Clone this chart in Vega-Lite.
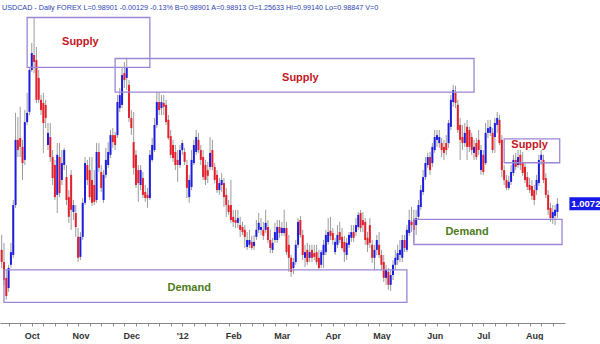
{
"$schema": "https://vega.github.io/schema/vega-lite/v6.json",
"width": 565, "height": 323, "padding": 0, "background": "white",
"title": {"text": "USDCAD - Daily FOREX L=0.98901 -0.00129 -0.13% B=0.98901 A=0.98913 O=1.25633 Hi=0.99140 Lo=0.98847 V=0", "anchor": "start", "frame": "group", "orient": "top", "offset": -17, "baseline": "alphabetic", "dx": 2, "fontSize": 7.2, "fontWeight": "normal", "color": "#2c3fb3", "font": "Liberation Sans"},
"config": {"view": {"stroke": null}, "font": "Liberation Sans"},
"resolve": {"axis": {"x": "independent"}},
"datasets": {
"bars": [
{"d":"2011-09-14","o":0.9927,"h":0.9974,"l":0.9870,"c":0.9889},
{"d":"2011-09-15","o":0.9889,"h":0.9949,"l":0.9817,"c":0.9832},
{"d":"2011-09-16","o":0.9839,"h":0.9864,"l":0.9770,"c":0.9782},
{"d":"2011-09-19","o":0.9807,"h":0.9880,"l":0.9795,"c":0.9870},
{"d":"2011-09-20","o":0.9880,"h":0.9949,"l":0.9870,"c":0.9920},
{"d":"2011-09-21","o":0.9911,"h":1.0084,"l":0.9902,"c":1.0068},
{"d":"2011-09-22","o":1.0068,"h":1.0358,"l":1.0059,"c":1.0273},
{"d":"2011-09-23","o":1.0273,"h":1.0345,"l":1.0219,"c":1.0241},
{"d":"2011-09-26","o":1.0279,"h":1.0377,"l":1.0219,"c":1.0251},
{"d":"2011-09-27","o":1.0251,"h":1.0273,"l":1.0147,"c":1.0200},
{"d":"2011-09-28","o":1.0210,"h":1.0367,"l":1.0194,"c":1.0329},
{"d":"2011-09-29","o":1.0329,"h":1.0421,"l":1.0320,"c":1.0358},
{"d":"2011-09-30","o":1.0361,"h":1.0502,"l":1.0351,"c":1.0493},
{"d":"2011-10-03","o":1.0493,"h":1.0578,"l":1.0487,"c":1.0546},
{"d":"2011-10-04","o":1.0540,"h":1.0656,"l":1.0483,"c":1.0518},
{"d":"2011-10-05","o":1.0524,"h":1.0565,"l":1.0389,"c":1.0399},
{"d":"2011-10-06","o":1.0468,"h":1.0493,"l":1.0389,"c":1.0399},
{"d":"2011-10-07","o":1.0399,"h":1.0414,"l":1.0351,"c":1.0367},
{"d":"2011-10-10","o":1.0389,"h":1.0421,"l":1.0232,"c":1.0326},
{"d":"2011-10-11","o":1.0383,"h":1.0399,"l":1.0310,"c":1.0342},
{"d":"2011-10-12","o":1.0257,"h":1.0326,"l":1.0241,"c":1.0295},
{"d":"2011-10-13","o":1.0282,"h":1.0326,"l":1.0204,"c":1.0219},
{"d":"2011-10-14","o":1.0219,"h":1.0241,"l":1.0131,"c":1.0153},
{"d":"2011-10-17","o":1.0194,"h":1.0210,"l":1.0084,"c":1.0093},
{"d":"2011-10-18","o":1.0100,"h":1.0263,"l":1.0043,"c":1.0226},
{"d":"2011-10-19","o":1.0219,"h":1.0263,"l":1.0093,"c":1.0106},
{"d":"2011-10-20","o":1.0147,"h":1.0241,"l":1.0131,"c":1.0200},
{"d":"2011-10-21","o":1.0194,"h":1.0248,"l":1.0178,"c":1.0241},
{"d":"2011-10-24","o":1.0156,"h":1.0194,"l":1.0068,"c":1.0084},
{"d":"2011-10-25","o":1.0093,"h":1.0115,"l":1.0012,"c":1.0031},
{"d":"2011-10-26","o":1.0163,"h":1.0178,"l":0.9990,"c":1.0053},
{"d":"2011-10-27","o":1.0046,"h":1.0084,"l":1.0021,"c":1.0068},
{"d":"2011-10-28","o":1.0043,"h":1.0068,"l":0.9968,"c":0.9999},
{"d":"2011-10-31","o":0.9968,"h":0.9996,"l":0.9889,"c":0.9902},
{"d":"2011-11-01","o":0.9905,"h":0.9983,"l":0.9895,"c":0.9968},
{"d":"2011-11-02","o":0.9968,"h":1.0090,"l":0.9958,"c":1.0075},
{"d":"2011-11-03","o":1.0075,"h":1.0219,"l":1.0068,"c":1.0200},
{"d":"2011-11-04","o":1.0194,"h":1.0210,"l":1.0131,"c":1.0147},
{"d":"2011-11-07","o":1.0178,"h":1.0219,"l":1.0084,"c":1.0093},
{"d":"2011-11-08","o":1.0147,"h":1.0219,"l":1.0065,"c":1.0075},
{"d":"2011-11-09","o":1.0131,"h":1.0178,"l":1.0068,"c":1.0078},
{"d":"2011-11-10","o":1.0084,"h":1.0263,"l":1.0075,"c":1.0235},
{"d":"2011-11-11","o":1.0235,"h":1.0263,"l":1.0172,"c":1.0185},
{"d":"2011-11-14","o":1.0172,"h":1.0194,"l":1.0109,"c":1.0122},
{"d":"2011-11-15","o":1.0084,"h":1.0178,"l":1.0075,"c":1.0163},
{"d":"2011-11-16","o":1.0163,"h":1.0248,"l":1.0153,"c":1.0210},
{"d":"2011-11-17","o":1.0194,"h":1.0266,"l":1.0185,"c":1.0235},
{"d":"2011-11-18","o":1.0226,"h":1.0304,"l":1.0216,"c":1.0288},
{"d":"2011-11-21","o":1.0288,"h":1.0310,"l":1.0248,"c":1.0266},
{"d":"2011-11-22","o":1.0288,"h":1.0298,"l":1.0241,"c":1.0257},
{"d":"2011-11-23","o":1.0288,"h":1.0414,"l":1.0279,"c":1.0392},
{"d":"2011-11-24","o":1.0373,"h":1.0436,"l":1.0361,"c":1.0414},
{"d":"2011-11-25","o":1.0383,"h":1.0499,"l":1.0373,"c":1.0477},
{"d":"2011-11-28","o":1.0483,"h":1.0518,"l":1.0436,"c":1.0461},
{"d":"2011-11-29","o":1.0468,"h":1.0531,"l":1.0430,"c":1.0499},
{"d":"2011-11-30","o":1.0446,"h":1.0461,"l":1.0329,"c":1.0342},
{"d":"2011-12-01","o":1.0342,"h":1.0367,"l":1.0288,"c":1.0310},
{"d":"2011-12-02","o":1.0266,"h":1.0361,"l":1.0163,"c":1.0185},
{"d":"2011-12-05","o":1.0226,"h":1.0241,"l":1.0122,"c":1.0131},
{"d":"2011-12-06","o":1.0178,"h":1.0194,"l":1.0078,"c":1.0137},
{"d":"2011-12-07","o":1.0131,"h":1.0194,"l":1.0115,"c":1.0178},
{"d":"2011-12-08","o":1.0153,"h":1.0172,"l":1.0090,"c":1.0100},
{"d":"2011-12-09","o":1.0109,"h":1.0131,"l":1.0078,"c":1.0090},
{"d":"2011-12-12","o":1.0100,"h":1.0122,"l":1.0059,"c":1.0090},
{"d":"2011-12-13","o":1.0090,"h":1.0241,"l":1.0084,"c":1.0226},
{"d":"2011-12-14","o":1.0210,"h":1.0279,"l":1.0204,"c":1.0257},
{"d":"2011-12-15","o":1.0241,"h":1.0342,"l":1.0235,"c":1.0320},
{"d":"2011-12-16","o":1.0320,"h":1.0424,"l":1.0310,"c":1.0392},
{"d":"2011-12-19","o":1.0392,"h":1.0424,"l":1.0351,"c":1.0367},
{"d":"2011-12-20","o":1.0373,"h":1.0414,"l":1.0351,"c":1.0392},
{"d":"2011-12-21","o":1.0389,"h":1.0414,"l":1.0351,"c":1.0377},
{"d":"2011-12-22","o":1.0383,"h":1.0399,"l":1.0320,"c":1.0329},
{"d":"2011-12-23","o":1.0336,"h":1.0351,"l":1.0273,"c":1.0279},
{"d":"2011-12-26","o":1.0285,"h":1.0304,"l":1.0216,"c":1.0226},
{"d":"2011-12-27","o":1.0257,"h":1.0273,"l":1.0204,"c":1.0216},
{"d":"2011-12-28","o":1.0235,"h":1.0257,"l":1.0178,"c":1.0194},
{"d":"2011-12-29","o":1.0210,"h":1.0241,"l":1.0141,"c":1.0194},
{"d":"2011-12-30","o":1.0194,"h":1.0257,"l":1.0185,"c":1.0241},
{"d":"2012-01-02","o":1.0241,"h":1.0273,"l":1.0226,"c":1.0263},
{"d":"2012-01-03","o":1.0235,"h":1.0248,"l":1.0194,"c":1.0204},
{"d":"2012-01-04","o":1.0194,"h":1.0210,"l":1.0090,"c":1.0122},
{"d":"2012-01-05","o":1.0093,"h":1.0163,"l":1.0075,"c":1.0147},
{"d":"2012-01-06","o":1.0125,"h":1.0241,"l":1.0115,"c":1.0210},
{"d":"2012-01-09","o":1.0200,"h":1.0273,"l":1.0194,"c":1.0257},
{"d":"2012-01-10","o":1.0235,"h":1.0304,"l":1.0226,"c":1.0282},
{"d":"2012-01-11","o":1.0273,"h":1.0295,"l":1.0232,"c":1.0241},
{"d":"2012-01-12","o":1.0241,"h":1.0257,"l":1.0194,"c":1.0210},
{"d":"2012-01-13","o":1.0219,"h":1.0241,"l":1.0147,"c":1.0156},
{"d":"2012-01-16","o":1.0194,"h":1.0210,"l":1.0131,"c":1.0147},
{"d":"2012-01-17","o":1.0178,"h":1.0204,"l":1.0137,"c":1.0160},
{"d":"2012-01-18","o":1.0188,"h":1.0282,"l":1.0178,"c":1.0232},
{"d":"2012-01-19","o":1.0241,"h":1.0273,"l":1.0178,"c":1.0188},
{"d":"2012-01-20","o":1.0188,"h":1.0200,"l":1.0137,"c":1.0147},
{"d":"2012-01-23","o":1.0163,"h":1.0178,"l":1.0106,"c":1.0115},
{"d":"2012-01-24","o":1.0115,"h":1.0153,"l":1.0100,"c":1.0137},
{"d":"2012-01-25","o":1.0131,"h":1.0169,"l":1.0109,"c":1.0147},
{"d":"2012-01-26","o":1.0137,"h":1.0153,"l":1.0062,"c":1.0093},
{"d":"2012-01-27","o":1.0100,"h":1.0122,"l":1.0031,"c":1.0068},
{"d":"2012-01-30","o":1.0068,"h":1.0084,"l":1.0037,"c":1.0046},
{"d":"2012-01-31","o":1.0068,"h":1.0147,"l":1.0012,"c":1.0021},
{"d":"2012-02-01","o":1.0031,"h":1.0053,"l":0.9999,"c":1.0015},
{"d":"2012-02-02","o":1.0021,"h":1.0053,"l":0.9996,"c":1.0012},
{"d":"2012-02-03","o":1.0012,"h":1.0053,"l":0.9996,"c":1.0027},
{"d":"2012-02-06","o":1.0005,"h":1.0031,"l":0.9968,"c":0.9990},
{"d":"2012-02-07","o":0.9999,"h":1.0015,"l":0.9974,"c":0.9983},
{"d":"2012-02-08","o":0.9990,"h":1.0005,"l":0.9933,"c":0.9968},
{"d":"2012-02-09","o":0.9936,"h":0.9983,"l":0.9927,"c":0.9958},
{"d":"2012-02-10","o":0.9943,"h":0.9990,"l":0.9933,"c":0.9958},
{"d":"2012-02-13","o":0.9952,"h":0.9971,"l":0.9927,"c":0.9933},
{"d":"2012-02-14","o":0.9939,"h":0.9974,"l":0.9927,"c":0.9952},
{"d":"2012-02-15","o":0.9968,"h":1.0021,"l":0.9958,"c":0.9990},
{"d":"2012-02-16","o":0.9990,"h":1.0043,"l":0.9980,"c":1.0012},
{"d":"2012-02-17","o":0.9990,"h":1.0027,"l":0.9974,"c":0.9999},
{"d":"2012-02-20","o":0.9990,"h":1.0015,"l":0.9958,"c":0.9971},
{"d":"2012-02-21","o":0.9990,"h":1.0053,"l":0.9980,"c":1.0012},
{"d":"2012-02-22","o":0.9999,"h":1.0021,"l":0.9949,"c":0.9958},
{"d":"2012-02-23","o":0.9958,"h":0.9990,"l":0.9917,"c":0.9933},
{"d":"2012-02-24","o":0.9927,"h":0.9965,"l":0.9917,"c":0.9949},
{"d":"2012-02-27","o":0.9958,"h":1.0012,"l":0.9949,"c":0.9983},
{"d":"2012-02-28","o":0.9958,"h":1.0021,"l":0.9949,"c":0.9999},
{"d":"2012-02-29","o":0.9999,"h":1.0021,"l":0.9965,"c":0.9980},
{"d":"2012-03-01","o":0.9980,"h":1.0015,"l":0.9971,"c":0.9996},
{"d":"2012-03-02","o":0.9980,"h":1.0053,"l":0.9971,"c":0.9996},
{"d":"2012-03-05","o":0.9996,"h":1.0015,"l":0.9911,"c":0.9920},
{"d":"2012-03-06","o":0.9943,"h":0.9974,"l":0.9858,"c":0.9902},
{"d":"2012-03-07","o":0.9902,"h":0.9911,"l":0.9842,"c":0.9858},
{"d":"2012-03-08","o":0.9870,"h":0.9902,"l":0.9851,"c":0.9889},
{"d":"2012-03-09","o":0.9889,"h":0.9958,"l":0.9880,"c":0.9943},
{"d":"2012-03-12","o":0.9943,"h":1.0027,"l":0.9933,"c":1.0015},
{"d":"2012-03-13","o":1.0021,"h":1.0034,"l":0.9965,"c":0.9974},
{"d":"2012-03-14","o":0.9974,"h":0.9990,"l":0.9895,"c":0.9911},
{"d":"2012-03-15","o":0.9902,"h":0.9943,"l":0.9873,"c":0.9920},
{"d":"2012-03-16","o":0.9927,"h":0.9949,"l":0.9880,"c":0.9889},
{"d":"2012-03-19","o":0.9902,"h":0.9943,"l":0.9889,"c":0.9920},
{"d":"2012-03-20","o":0.9927,"h":0.9943,"l":0.9889,"c":0.9902},
{"d":"2012-03-21","o":0.9917,"h":0.9943,"l":0.9895,"c":0.9905},
{"d":"2012-03-22","o":0.9920,"h":0.9943,"l":0.9880,"c":0.9889},
{"d":"2012-03-23","o":0.9902,"h":0.9927,"l":0.9864,"c":0.9870},
{"d":"2012-03-26","o":0.9880,"h":0.9927,"l":0.9870,"c":0.9920},
{"d":"2012-03-27","o":0.9911,"h":0.9958,"l":0.9870,"c":0.9943},
{"d":"2012-03-28","o":0.9920,"h":0.9990,"l":0.9911,"c":0.9974},
{"d":"2012-03-29","o":0.9952,"h":1.0027,"l":0.9943,"c":0.9983},
{"d":"2012-03-30","o":0.9987,"h":1.0031,"l":0.9958,"c":0.9971},
{"d":"2012-04-02","o":0.9980,"h":0.9996,"l":0.9943,"c":0.9958},
{"d":"2012-04-03","o":0.9920,"h":0.9965,"l":0.9911,"c":0.9952},
{"d":"2012-04-04","o":0.9943,"h":1.0005,"l":0.9933,"c":0.9974},
{"d":"2012-04-05","o":0.9983,"h":1.0015,"l":0.9949,"c":0.9958},
{"d":"2012-04-06","o":0.9968,"h":0.9996,"l":0.9927,"c":0.9933},
{"d":"2012-04-09","o":0.9952,"h":0.9971,"l":0.9889,"c":0.9920},
{"d":"2012-04-10","o":0.9911,"h":0.9965,"l":0.9895,"c":0.9949},
{"d":"2012-04-11","o":0.9943,"h":0.9983,"l":0.9933,"c":0.9974},
{"d":"2012-04-12","o":0.9965,"h":1.0005,"l":0.9952,"c":0.9983},
{"d":"2012-04-13","o":0.9983,"h":1.0005,"l":0.9952,"c":0.9965},
{"d":"2012-04-16","o":0.9983,"h":1.0027,"l":0.9971,"c":1.0005},
{"d":"2012-04-17","o":0.9999,"h":1.0046,"l":0.9990,"c":1.0037},
{"d":"2012-04-18","o":1.0043,"h":1.0053,"l":0.9983,"c":0.9996},
{"d":"2012-04-19","o":1.0021,"h":1.0046,"l":0.9983,"c":1.0005},
{"d":"2012-04-20","o":1.0015,"h":1.0027,"l":0.9943,"c":0.9958},
{"d":"2012-04-23","o":0.9965,"h":0.9983,"l":0.9920,"c":0.9943},
{"d":"2012-04-24","o":1.0005,"h":1.0027,"l":0.9933,"c":0.9949},
{"d":"2012-04-25","o":0.9943,"h":0.9958,"l":0.9886,"c":0.9902},
{"d":"2012-04-26","o":0.9902,"h":0.9943,"l":0.9864,"c":0.9927},
{"d":"2012-04-27","o":0.9927,"h":0.9974,"l":0.9911,"c":0.9958},
{"d":"2012-04-30","o":0.9943,"h":0.9983,"l":0.9902,"c":0.9911},
{"d":"2012-05-01","o":0.9911,"h":0.9927,"l":0.9864,"c":0.9880},
{"d":"2012-05-02","o":0.9889,"h":0.9911,"l":0.9826,"c":0.9839},
{"d":"2012-05-03","o":0.9839,"h":0.9880,"l":0.9817,"c":0.9864},
{"d":"2012-05-04","o":0.9858,"h":0.9870,"l":0.9801,"c":0.9817},
{"d":"2012-05-07","o":0.9817,"h":0.9864,"l":0.9798,"c":0.9848},
{"d":"2012-05-08","o":0.9848,"h":0.9895,"l":0.9832,"c":0.9880},
{"d":"2012-05-09","o":0.9880,"h":0.9927,"l":0.9864,"c":0.9902},
{"d":"2012-05-10","o":0.9895,"h":0.9943,"l":0.9880,"c":0.9917},
{"d":"2012-05-11","o":0.9911,"h":0.9958,"l":0.9889,"c":0.9927},
{"d":"2012-05-14","o":0.9902,"h":0.9974,"l":0.9889,"c":0.9958},
{"d":"2012-05-15","o":0.9958,"h":0.9974,"l":0.9920,"c":0.9933},
{"d":"2012-05-16","o":0.9927,"h":1.0005,"l":0.9920,"c":0.9990},
{"d":"2012-05-17","o":0.9980,"h":1.0053,"l":0.9971,"c":1.0021},
{"d":"2012-05-18","o":1.0015,"h":1.0062,"l":0.9983,"c":1.0005},
{"d":"2012-05-21","o":1.0021,"h":1.0053,"l":0.9949,"c":0.9990},
{"d":"2012-05-22","o":1.0005,"h":1.0053,"l":0.9974,"c":1.0027},
{"d":"2012-05-23","o":1.0031,"h":1.0084,"l":1.0021,"c":1.0068},
{"d":"2012-05-24","o":1.0062,"h":1.0131,"l":1.0053,"c":1.0115},
{"d":"2012-05-25","o":1.0109,"h":1.0178,"l":1.0100,"c":1.0156},
{"d":"2012-05-28","o":1.0156,"h":1.0219,"l":1.0147,"c":1.0200},
{"d":"2012-05-29","o":1.0194,"h":1.0232,"l":1.0185,"c":1.0219},
{"d":"2012-05-30","o":1.0219,"h":1.0235,"l":1.0163,"c":1.0178},
{"d":"2012-05-31","o":1.0200,"h":1.0263,"l":1.0188,"c":1.0251},
{"d":"2012-06-01","o":1.0241,"h":1.0304,"l":1.0232,"c":1.0282},
{"d":"2012-06-04","o":1.0273,"h":1.0304,"l":1.0251,"c":1.0288},
{"d":"2012-06-05","o":1.0263,"h":1.0304,"l":1.0248,"c":1.0282},
{"d":"2012-06-06","o":1.0263,"h":1.0279,"l":1.0219,"c":1.0241},
{"d":"2012-06-07","o":1.0251,"h":1.0273,"l":1.0210,"c":1.0232},
{"d":"2012-06-08","o":1.0263,"h":1.0288,"l":1.0226,"c":1.0241},
{"d":"2012-06-11","o":1.0263,"h":1.0336,"l":1.0248,"c":1.0326},
{"d":"2012-06-12","o":1.0314,"h":1.0414,"l":1.0304,"c":1.0399},
{"d":"2012-06-13","o":1.0392,"h":1.0446,"l":1.0377,"c":1.0430},
{"d":"2012-06-14","o":1.0421,"h":1.0443,"l":1.0373,"c":1.0389},
{"d":"2012-06-15","o":1.0383,"h":1.0399,"l":1.0295,"c":1.0304},
{"d":"2012-06-18","o":1.0320,"h":1.0342,"l":1.0210,"c":1.0273},
{"d":"2012-06-19","o":1.0282,"h":1.0320,"l":1.0241,"c":1.0263},
{"d":"2012-06-20","o":1.0263,"h":1.0326,"l":1.0251,"c":1.0295},
{"d":"2012-06-21","o":1.0314,"h":1.0336,"l":1.0210,"c":1.0251},
{"d":"2012-06-22","o":1.0304,"h":1.0314,"l":1.0235,"c":1.0251},
{"d":"2012-06-25","o":1.0282,"h":1.0295,"l":1.0226,"c":1.0241},
{"d":"2012-06-26","o":1.0232,"h":1.0273,"l":1.0210,"c":1.0251},
{"d":"2012-06-27","o":1.0263,"h":1.0279,"l":1.0210,"c":1.0219},
{"d":"2012-06-28","o":1.0273,"h":1.0304,"l":1.0226,"c":1.0241},
{"d":"2012-06-29","o":1.0178,"h":1.0257,"l":1.0163,"c":1.0241},
{"d":"2012-07-02","o":1.0226,"h":1.0241,"l":1.0163,"c":1.0172},
{"d":"2012-07-03","o":1.0200,"h":1.0326,"l":1.0194,"c":1.0295},
{"d":"2012-07-04","o":1.0295,"h":1.0336,"l":1.0279,"c":1.0310},
{"d":"2012-07-05","o":1.0295,"h":1.0336,"l":1.0285,"c":1.0314},
{"d":"2012-07-06","o":1.0295,"h":1.0310,"l":1.0232,"c":1.0241},
{"d":"2012-07-09","o":1.0282,"h":1.0342,"l":1.0232,"c":1.0326},
{"d":"2012-07-10","o":1.0320,"h":1.0361,"l":1.0295,"c":1.0342},
{"d":"2012-07-11","o":1.0336,"h":1.0351,"l":1.0257,"c":1.0263},
{"d":"2012-07-12","o":1.0273,"h":1.0288,"l":1.0156,"c":1.0178},
{"d":"2012-07-13","o":1.0178,"h":1.0194,"l":1.0131,"c":1.0147},
{"d":"2012-07-16","o":1.0147,"h":1.0163,"l":1.0115,"c":1.0122},
{"d":"2012-07-17","o":1.0122,"h":1.0160,"l":1.0115,"c":1.0141},
{"d":"2012-07-18","o":1.0141,"h":1.0194,"l":1.0131,"c":1.0172},
{"d":"2012-07-19","o":1.0169,"h":1.0226,"l":1.0160,"c":1.0210},
{"d":"2012-07-20","o":1.0210,"h":1.0232,"l":1.0178,"c":1.0188},
{"d":"2012-07-23","o":1.0194,"h":1.0241,"l":1.0185,"c":1.0219},
{"d":"2012-07-24","o":1.0226,"h":1.0241,"l":1.0178,"c":1.0194},
{"d":"2012-07-25","o":1.0200,"h":1.0235,"l":1.0160,"c":1.0169},
{"d":"2012-07-26","o":1.0188,"h":1.0204,"l":1.0137,"c":1.0147},
{"d":"2012-07-27","o":1.0156,"h":1.0172,"l":1.0115,"c":1.0125},
{"d":"2012-07-30","o":1.0131,"h":1.0153,"l":1.0106,"c":1.0115},
{"d":"2012-07-31","o":1.0128,"h":1.0147,"l":1.0084,"c":1.0097},
{"d":"2012-08-01","o":1.0115,"h":1.0131,"l":1.0068,"c":1.0084},
{"d":"2012-08-02","o":1.0115,"h":1.0163,"l":1.0100,"c":1.0147},
{"d":"2012-08-03","o":1.0137,"h":1.0226,"l":1.0128,"c":1.0210},
{"d":"2012-08-06","o":1.0210,"h":1.0241,"l":1.0194,"c":1.0226},
{"d":"2012-08-07","o":1.0210,"h":1.0226,"l":1.0137,"c":1.0147},
{"d":"2012-08-08","o":1.0153,"h":1.0169,"l":1.0090,"c":1.0100},
{"d":"2012-08-09","o":1.0100,"h":1.0115,"l":1.0037,"c":1.0053},
{"d":"2012-08-10","o":1.0059,"h":1.0075,"l":1.0015,"c":1.0027},
{"d":"2012-08-13","o":1.0027,"h":1.0068,"l":1.0009,"c":1.0046},
{"d":"2012-08-14","o":1.0034,"h":1.0068,"l":1.0005,"c":1.0053},
{"d":"2012-08-15","o":1.0046,"h":1.0090,"l":1.0027,"c":1.0072}
],
"zones": [
{"zone":"Supply","d1":"2011-09-29","d2":"2011-12-13","top":1.0658,"bot":1.0501,"ld":"2011-11-01","ly":1.0581},
{"zone":"Supply","d1":"2011-11-22","d2":"2012-06-26","top":1.0529,"bot":1.0423,"ld":"2012-03-13","ly":1.0468},
{"zone":"Supply","d1":"2012-07-13","d2":"2012-08-16","top":1.0276,"bot":1.0201,"ld":"2012-07-30","ly":1.0257},
{"zone":"Demand","d1":"2011-09-15","d2":"2012-05-16","top":0.9864,"bot":0.9762,"ld":"2012-01-05","ly":0.9807},
{"zone":"Demand","d1":"2012-05-21","d2":"2012-08-17","top":1.0023,"bot":0.9944,"ld":"2012-06-21","ly":0.9983}
],
"last": [{"d":"2012-08-15","c":1.0072}]
},
"layer": [
{"data": {"name": "bars"},
 "mark": {"type": "rule", "color": "#9c9c9c", "strokeWidth": 1},
 "encoding": {
  "x": {"field": "d", "type": "ordinal", "scale": {"type": "point", "padding": 1.83, "align": 0.36},
        "axis": {"orient": "bottom", "title": null, "grid": false, "labels": false, "tickSize": 3, "tickColor": "#888888", "domainColor": "#888888",
                 "values": ["2011-09-19","2011-09-26","2011-10-03","2011-10-10","2011-10-17","2011-10-24","2011-10-31","2011-11-07","2011-11-14","2011-11-21","2011-11-28","2011-12-05","2011-12-12","2011-12-19","2011-12-26","2012-01-02","2012-01-09","2012-01-16","2012-01-23","2012-01-30","2012-02-06","2012-02-13","2012-02-20","2012-02-27","2012-03-05","2012-03-12","2012-03-19","2012-03-26","2012-04-02","2012-04-09","2012-04-16","2012-04-23","2012-04-30","2012-05-07","2012-05-14","2012-05-21","2012-05-28","2012-06-04","2012-06-11","2012-06-18","2012-06-25","2012-07-02","2012-07-09","2012-07-16","2012-07-23","2012-07-30","2012-08-06","2012-08-13"]}},
  "y": {"field": "l", "type": "quantitative", "scale": {"domain": [0.9697, 1.0713], "nice": false, "zero": false},
        "axis": {"orient": "right", "title": null, "grid": false, "values": [0.98, 1.0, 1.02, 1.04, 1.06], "format": ".4f", "tickSize": 3, "tickColor": "#777777", "domainColor": "#777777", "labelFontSize": 9.5, "labelFontWeight": "bold", "labelColor": "#333333", "labelPadding": 2}},
  "y2": {"field": "h"}
 }},
{"data": {"name": "bars"},
 "mark": {"type": "rule", "strokeWidth": 2},
 "encoding": {
  "x": {"field": "d", "type": "ordinal",
        "axis": {"orient": "bottom", "title": null, "grid": false, "ticks": false, "tickSize": 0, "domain": false, "labelPadding": 8, "labelAngle": 0, "labelOverlap": false, "labelFontSize": 9, "labelFontWeight": "bold", "labelColor": "#333333",
                 "values": ["2011-10-03","2011-11-01","2011-12-01","2012-01-02","2012-02-01","2012-03-01","2012-04-02","2012-05-01","2012-06-01","2012-07-02","2012-08-01"],
                 "labelExpr": "utcmonth(toDate(datum.value)) == 0 ? \"'12\" : utcFormat(toDate(datum.value), '%b')"}},
  "y": {"field": "o", "type": "quantitative", "axis": null},
  "y2": {"field": "c"},
  "color": {"condition": {"test": "datum.c >= datum.o", "value": "#1d1ddf"}, "value": "#e3202b"}
 }},
{"data": {"name": "zones"},
 "mark": {"type": "rect", "fillOpacity": 0, "stroke": "#9b86d4", "strokeWidth": 1.3},
 "encoding": {
  "x": {"field": "d1", "type": "ordinal", "axis": null},
  "x2": {"field": "d2"},
  "y": {"field": "top", "type": "quantitative", "axis": null},
  "y2": {"field": "bot"}
 }},
{"data": {"name": "zones"},
 "mark": {"type": "text", "fontSize": 11, "fontWeight": "bold", "baseline": "middle", "align": "center"},
 "encoding": {
  "x": {"field": "ld", "type": "ordinal", "axis": null},
  "y": {"field": "ly", "type": "quantitative", "axis": null},
  "text": {"field": "zone"},
  "color": {"condition": {"test": "datum.zone == 'Supply'", "value": "#c5161d"}, "value": "#4e7b22"}
 }},
{"data": {"name": "last"},
 "mark": {"type": "point", "shape": "M1.2,-0.65H4.5V0.65H1.2Z", "size": 400, "filled": true, "color": "#1818e8", "opacity": 1, "strokeWidth": 0},
 "encoding": {
  "x": {"field": "d", "type": "ordinal", "axis": null},
  "y": {"field": "c", "type": "quantitative", "axis": null}
 }},
{"data": {"name": "last"},
 "mark": {"type": "text", "dx": 28.5, "fontSize": 9.5, "fontWeight": "bold", "color": "white", "baseline": "middle", "align": "center"},
 "encoding": {
  "x": {"field": "d", "type": "ordinal", "axis": null},
  "y": {"field": "c", "type": "quantitative", "axis": null},
  "text": {"field": "c", "type": "quantitative", "format": ".4f"}
 }}
]
}
